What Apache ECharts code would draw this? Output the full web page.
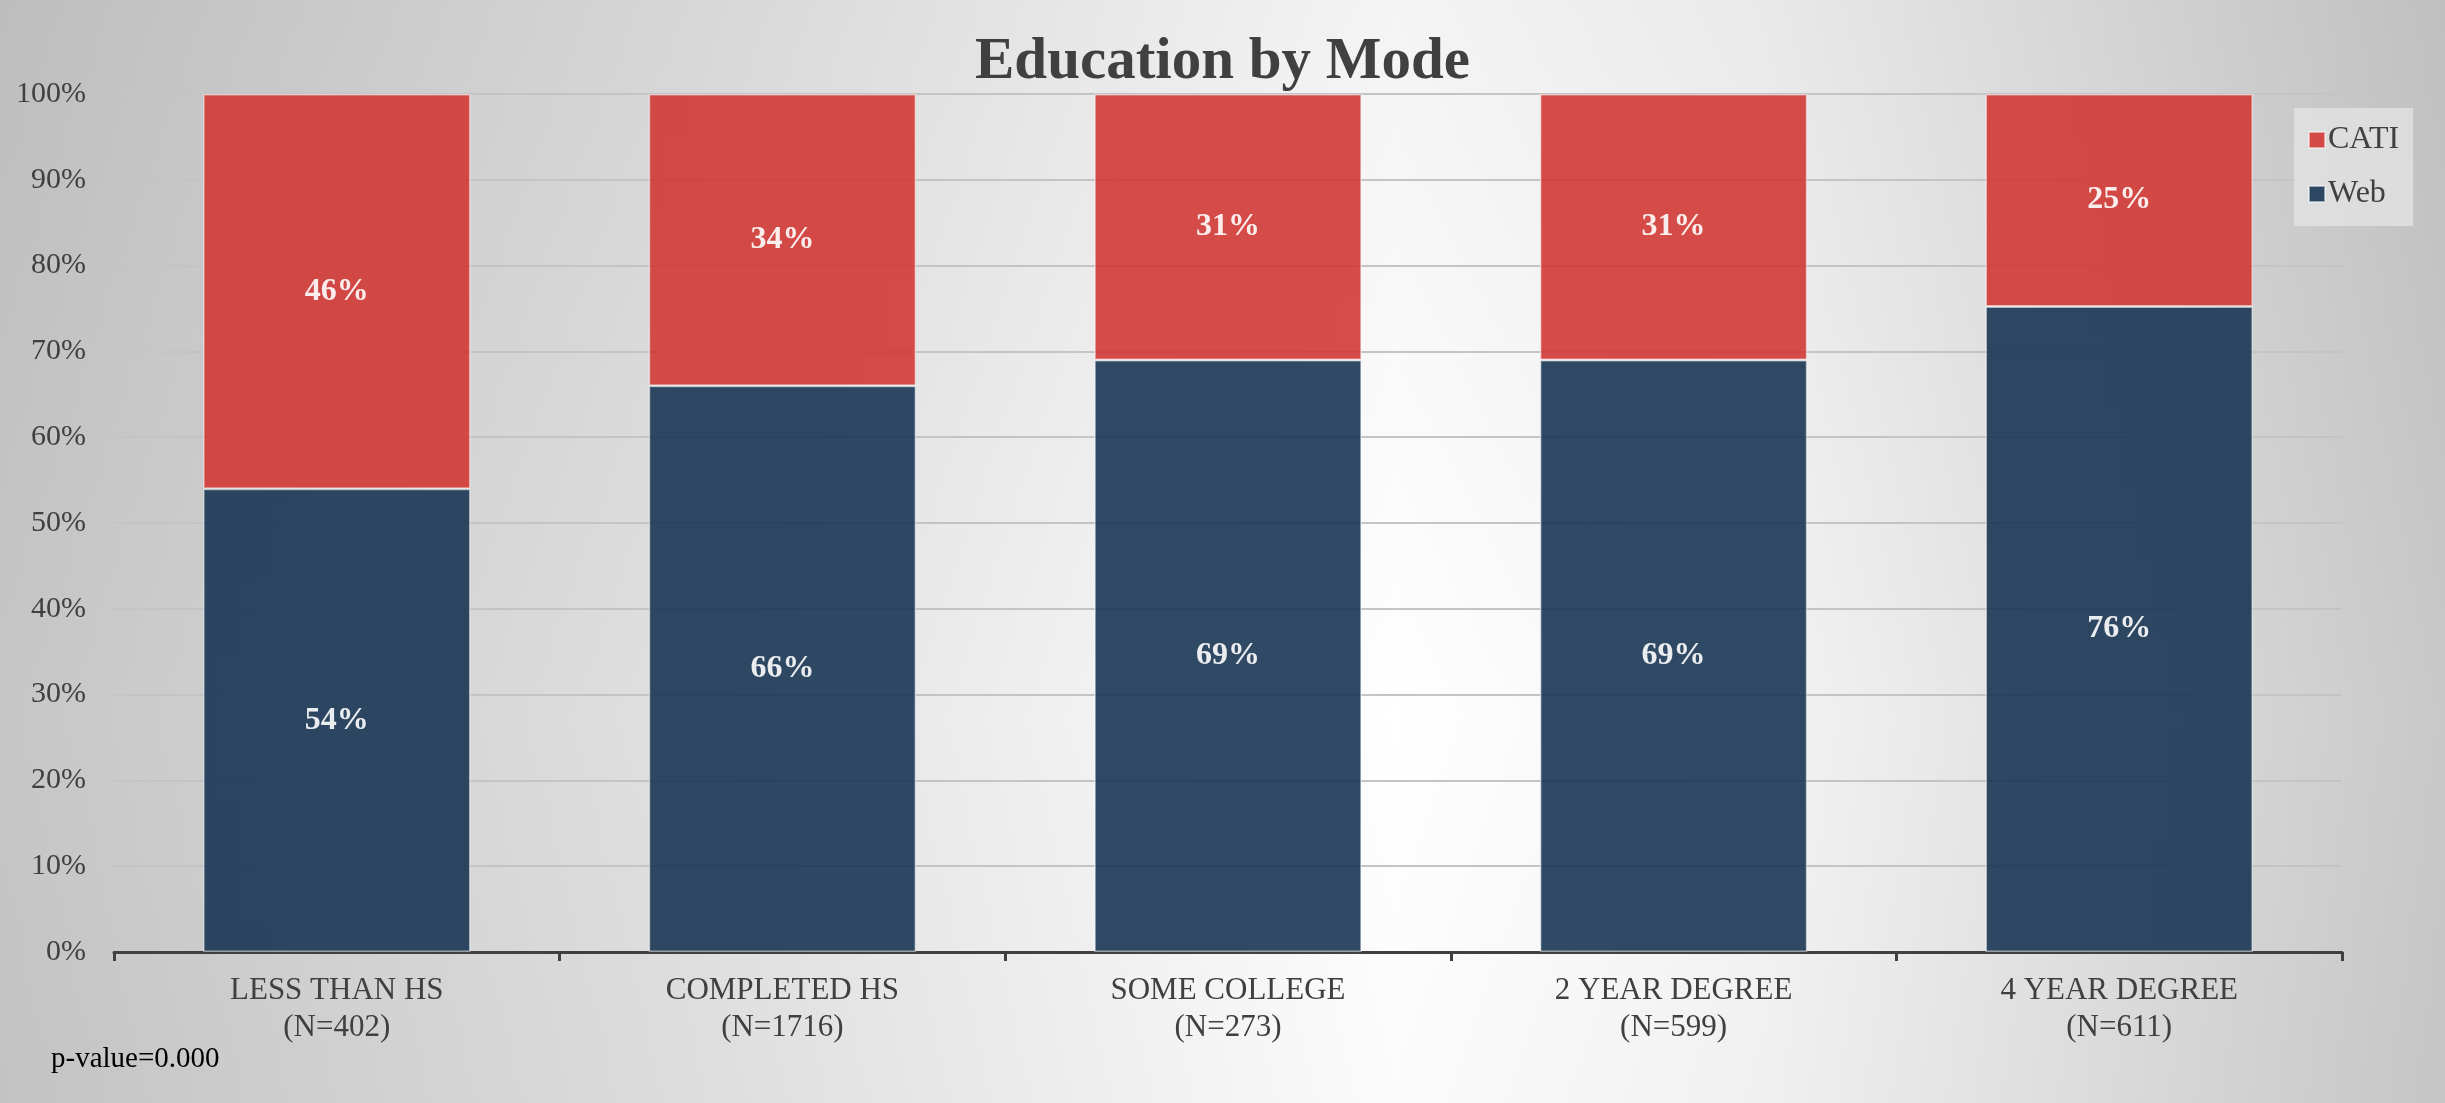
<!DOCTYPE html>
<html>
<head>
<meta charset="utf-8">
<title>Education by Mode</title>
<script src="https://cdn.jsdelivr.net/npm/echarts@6/dist/echarts.min.js"></script>
<style>
  html, body { margin: 0; padding: 0; }
  #chart {
    width: 2445px; height: 1103px;
    background:
      linear-gradient(to bottom, #f4f4f4 0%, #ffffff 65%, #fbfbfb 100%),
      linear-gradient(to right, #c6c6c6 0%, #e0e0e0 28%, #ffffff 57%, #f4f4f4 72%, #c8c8c8 100%);
    background-blend-mode: multiply;
  }
</style>
</head>
<body>
<div id="chart"></div>
<script>
// Education level groups with sample sizes
const categories = ['LESS THAN HS', 'COMPLETED HS', 'SOME COLLEGE', '2 YEAR DEGREE', '4 YEAR DEGREE'];
const sampleSizes = [402, 1716, 273, 599, 611];

// Percent of respondents by survey mode (rounded, as reported)
const webPct = [54, 66, 69, 69, 76];
const catiPct = [46, 34, 31, 31, 25];

const pValueText = 'p-value=0.000';

// 100% stacked: each column is normalised to its own total
const totals = webPct.map((v, i) => v + catiPct[i]);
const webShare = webPct.map((v, i) => ({ value: v / totals[i] * 100, raw: v }));
const catiShare = catiPct.map((v, i) => ({ value: v / totals[i] * 100, raw: v }));

const axisLabels = categories.map((c, i) => c + '\n(N=' + sampleSizes[i] + ')');

const FONT = '"Liberation Serif", "Times New Roman", serif';
const TEXT = '#404040';

const chart = echarts.init(document.getElementById('chart'), null, { renderer: 'canvas' });

const barLabel = {
  show: true,
  position: 'inside',
  color: '#ffffff',
  fontFamily: FONT,
  fontWeight: 'bold',
  fontSize: 32,
  formatter: p => p.data.raw + '%'
};

chart.setOption({
  backgroundColor: 'transparent',
  animation: false,
  title: {
    text: 'Education by Mode',
    left: 'center',
    top: 28,
    textStyle: { fontFamily: FONT, fontWeight: 'bold', fontSize: 59, color: TEXT }
  },
  legend: {
    orient: 'vertical',
    left: 2294,
    top: 108,
    padding: [16, 14, 16, 14],
    itemGap: 22,
    itemWidth: 16,
    itemHeight: 16,
    icon: 'rect',
    backgroundColor: 'rgba(228,228,228,0.75)',
    data: ['CATI', 'Web'],
    textStyle: { fontFamily: FONT, fontSize: 32, color: TEXT, padding: [0, 0, 0, -2] }
  },
  graphic: [{
    type: 'text',
    left: 51,
    top: 1045,
    style: { text: pValueText, fontFamily: FONT, fontSize: 29, fill: '#000000' }
  }],
  grid: { left: 114, right: 103, top: 94, bottom: 151 },
  xAxis: {
    type: 'category',
    data: axisLabels,
    axisLine: { lineStyle: { color: '#404040', width: 3 } },
    axisTick: { show: true, length: 9, lineStyle: { color: '#404040', width: 3 } },
    axisLabel: { fontFamily: FONT, fontSize: 31, color: TEXT, lineHeight: 37, margin: 20 }
  },
  yAxis: {
    type: 'value',
    min: 0,
    max: 100,
    interval: 10,
    axisLine: { show: false },
    axisTick: { show: false },
    axisLabel: { fontFamily: FONT, fontSize: 30, color: TEXT, margin: 28, formatter: '{value}%' },
    splitLine: { lineStyle: { color: '#c4c4c4', width: 2 } }
  },
  series: [
    {
      name: 'Web',
      type: 'bar',
      stack: 'mode',
      barCategoryGap: '40%',
      data: webShare,
      itemStyle: { color: 'rgb(26,54,84)', opacity: 0.9, borderColor: 'rgba(255,255,255,0.55)', borderWidth: 1.5 },
      label: barLabel
    },
    {
      name: 'CATI',
      type: 'bar',
      stack: 'mode',
      data: catiShare,
      itemStyle: { color: 'rgb(208,56,52)', opacity: 0.9, borderColor: 'rgba(255,255,255,0.55)', borderWidth: 1.5 },
      label: barLabel
    }
  ]
});
</script>
</body>
</html>
